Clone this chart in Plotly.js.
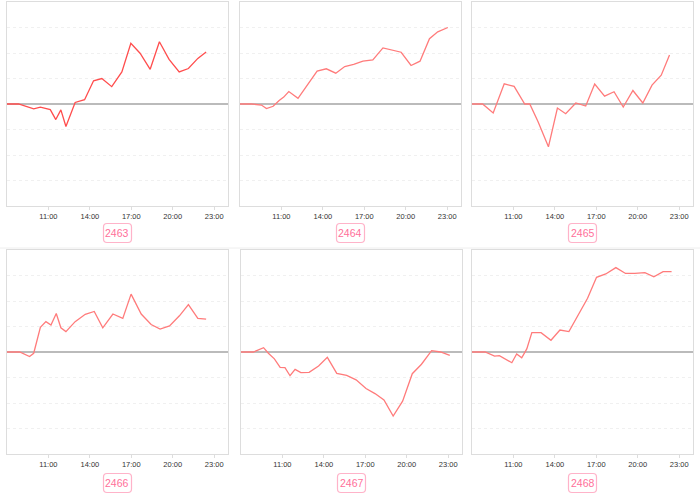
<!DOCTYPE html>
<html>
<head>
<meta charset="utf-8">
<script src="https://cdn.plot.ly/plotly-3.0.1.min.js"></script>
<style>html,body{margin:0;padding:0;background:#fff;}#chart{width:700px;height:495px;}</style>
</head>
<body>
<div id="chart"></div>
<script>
const labels = ["2463", "2464", "2465", "2466", "2467", "2468"];
const tickTimes = ["11:00", "14:00", "17:00", "20:00", "23:00"];

const times2463 = ["08:00","08:50","09:56","10:25","11:08","11:32","11:54","12:16","12:56","13:37","14:16","14:52","15:35","16:19","16:58","17:38","18:22","19:02","19:44","20:28","21:08","21:49","22:25"];
const values2463 = [0,0,-0.19,-0.12,-0.22,-0.61,-0.23,-0.88,0.06,0.17,0.91,1.0,0.68,1.26,2.38,1.99,1.36,2.44,1.75,1.26,1.39,1.79,2.04];

const times2464 = ["08:00","08:50","09:33","09:55","10:24","10:50","11:10","11:32","12:12","12:56","13:35","14:15","14:56","15:35","16:14","16:54","17:37","18:21","19:04","19:40","20:23","21:02","21:43","22:19","23:03"];
const values2464 = [0,0,-0.04,-0.18,-0.09,0.14,0.27,0.49,0.22,0.77,1.29,1.38,1.21,1.47,1.55,1.68,1.73,2.2,2.12,2.03,1.51,1.68,2.56,2.83,3.0];

const times2465 = ["08:00","08:46","09:32","10:20","11:03","11:49","12:11","12:47","13:32","14:11","14:47","15:31","16:14","16:53","17:36","18:17","18:57","19:39","20:22","21:02","21:42","22:18"];
const values2465 = [0,0,-0.35,0.79,0.69,0,0,-0.7,-1.68,-0.16,-0.38,0.04,-0.08,0.78,0.31,0.48,-0.12,0.53,0.04,0.74,1.13,1.92];

const times2466 = ["08:00","08:55","09:38","09:56","10:25","10:49","11:11","11:34","11:54","12:16","12:56","13:40","14:19","14:56","15:40","16:23","16:59","17:43","18:26","19:05","19:46","20:29","21:08","21:49","22:25"];
const values2466 = [0,0,-0.18,-0.05,0.97,1.19,1.06,1.51,0.95,0.80,1.19,1.48,1.59,0.95,1.49,1.32,2.27,1.49,1.08,0.90,1.02,1.42,1.86,1.32,1.29];

const times2467 = ["08:00","08:54","09:38","09:59","10:25","10:50","11:11","11:33","11:55","12:20","12:56","13:37","14:15","14:56","15:39","16:20","17:03","17:42","18:21","19:01","19:42","20:24","21:04","21:48","22:27","23:07"];
const values2467 = [0,0,0.17,-0.05,-0.27,-0.60,-0.61,-0.93,-0.68,-0.81,-0.8,-0.55,-0.21,-0.84,-0.92,-1.09,-1.43,-1.63,-1.88,-2.51,-1.93,-0.85,-0.48,0.05,0,-0.13];

const times2468 = ["08:00","08:57","09:38","09:59","10:53","11:14","11:36","11:58","12:20","13:00","13:43","14:22","15:01","15:41","16:22","17:01","17:41","18:25","19:07","19:47","20:31","21:10","21:50","22:27"];
const values2468 = [0,0,-0.16,-0.14,-0.42,-0.08,-0.23,0.12,0.76,0.76,0.46,0.86,0.80,1.46,2.11,2.93,3.06,3.31,3.08,3.08,3.11,2.95,3.15,3.15];

const allTimes = [times2463, times2464, times2465, times2466, times2467, times2468];
const allValues = [values2463, values2464, values2465, values2466, values2467, values2468];
const lineColors = ["#ff4d4d", "#ff7b7b", "#ff7b7b", "#ff7b7b", "#ff7b7b", "#ff7b7b"];

const DAY = "2024-01-01 ";
const W = 700, H = 495;
// panel boxes in pixels [left, right, top, bottom]
const boxes = [
  [7, 228, 2, 206], [240, 461, 2, 206], [472, 693, 2, 206],
  [7, 228, 250, 454], [241, 462, 250, 454], [472, 693, 250, 454]
];
const labelY = [233, 233, 233, 483, 483, 483];

function roundRect(cx, cy, w, h, r) {
  const X = v => (v / W).toFixed(5);
  const Y = v => (1 - v / H).toFixed(5);
  const l = cx - w / 2, rr = cx + w / 2, t = cy - h / 2, bt = cy + h / 2;
  return `M ${X(l + r)} ${Y(t)} L ${X(rr - r)} ${Y(t)} Q ${X(rr)} ${Y(t)} ${X(rr)} ${Y(t + r)} ` +
         `L ${X(rr)} ${Y(bt - r)} Q ${X(rr)} ${Y(bt)} ${X(rr - r)} ${Y(bt)} ` +
         `L ${X(l + r)} ${Y(bt)} Q ${X(l)} ${Y(bt)} ${X(l)} ${Y(bt - r)} ` +
         `L ${X(l)} ${Y(t + r)} Q ${X(l)} ${Y(t)} ${X(l + r)} ${Y(t)} Z`;
}

const data = [];
const layout = {
  width: W, height: H,
  margin: {l: 0, r: 0, t: 0, b: 0},
  paper_bgcolor: "#fff", plot_bgcolor: "#fff",
  showlegend: false,
  font: {family: "Liberation Sans, Arial, sans-serif"},
  annotations: [],
  shapes: [
    {type: "line", xref: "paper", yref: "paper", x0: 0, x1: 1, y0: 1 - 248 / H, y1: 1 - 248 / H,
     line: {color: "#eeeeee", width: 1}, layer: "below"}
  ]
};

for (let i = 0; i < 6; i++) {
  const n = i === 0 ? "" : String(i + 1);
  data.push({
    type: "scatter", mode: "lines",
    x: allTimes[i].map(t => DAY + t),
    y: allValues[i],
    xaxis: "x" + n, yaxis: "y" + n,
    line: {color: lineColors[i], width: 1.3},
    hoverinfo: "skip"
  });
  const b = boxes[i];
  layout["xaxis" + n] = {
    type: "date",
    domain: [b[0] / W, b[1] / W],
    anchor: "y" + n,
    range: [DAY + "08:00", "2024-01-02 00:00"],
    tickmode: "array",
    tickvals: tickTimes.map(t => DAY + t),
    ticktext: tickTimes,
    tickfont: {size: 7.5, color: "#333"},
    ticks: "outside", ticklen: 3, tickcolor: "#dddddd",
    showgrid: false, zeroline: false,
    showline: true, mirror: true, linecolor: "#dddddd", linewidth: 1.2,
    fixedrange: true
  };
  layout["yaxis" + n] = {
    domain: [1 - b[3] / H, 1 - b[2] / H],
    anchor: "x" + n,
    range: [-4, 4], dtick: 1,
    showticklabels: false, ticks: "",
    showgrid: true, gridcolor: "#f0f0f0", griddash: "dot", gridwidth: 1,
    zeroline: true, zerolinecolor: "#bbbbbb", zerolinewidth: 1.5,
    showline: true, mirror: true, linecolor: "#dddddd", linewidth: 1.2,
    fixedrange: true
  };
  const cx = (b[0] + b[1]) / 2;
  layout.shapes.push({
    type: "path", xref: "paper", yref: "paper",
    path: roundRect(cx, labelY[i], 28, 19, 3.5),
    line: {color: "#ffb3c9", width: 1.2}, fillcolor: "#ffffff"
  });
  layout.annotations.push({
    xref: "paper", yref: "paper",
    x: cx / W, y: 1 - labelY[i] / H,
    xanchor: "center", yanchor: "middle",
    text: labels[i], showarrow: false,
    font: {size: 10.5, color: "#ff6f9a"}
  });
}

Plotly.newPlot("chart", data, layout, {displayModeBar: false, staticPlot: true});
</script>
</body>
</html>
